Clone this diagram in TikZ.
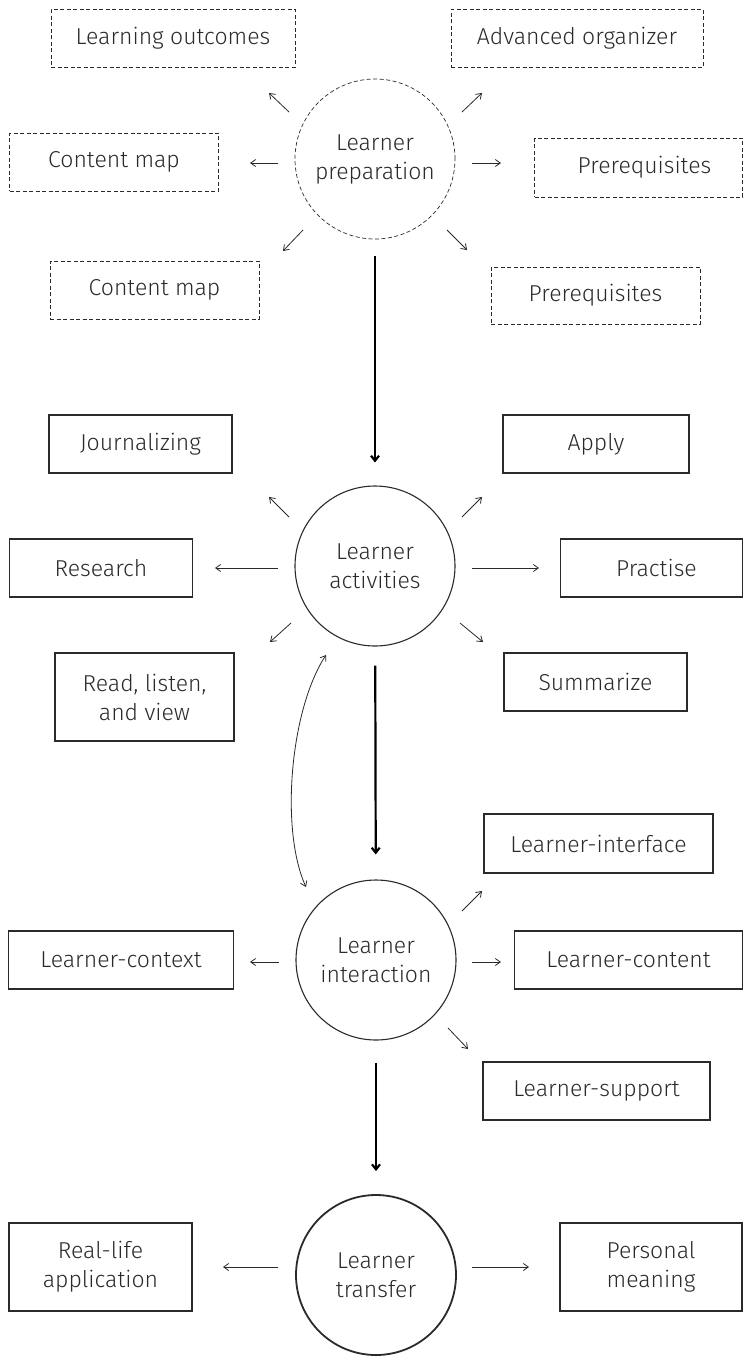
\documentclass[tikz,border=0pt]{standalone}
\usepackage{fontspec}
\setmainfont{Fira Sans}[UprightFont={* Light}]
\usetikzlibrary{arrows.meta}
\definecolor{ink}{HTML}{2A2A2A}
\tikzset{
  lbl/.style={text=ink, font=\fontsize{23}{29}\selectfont, align=center, inner sep=0pt},
  box/.style={lbl, draw=ink, line width=1.1pt, rectangle},
  dbox/.style={lbl, draw=ink, line width=0.7pt, dash pattern=on 4pt off 2.5pt, rectangle},
  tbox/.style={lbl, draw=ink, line width=1.8pt, rectangle},
  circ/.style={lbl, draw=ink, line width=1.1pt, circle, minimum size=160pt},
  dcirc/.style={lbl, draw=ink, line width=0.7pt, dash pattern=on 4pt off 2.5pt, circle, minimum size=160pt},
  tcirc/.style={lbl, draw=ink, line width=1.8pt, circle, minimum size=160pt},
  stub/.style={draw=ink, line width=0.8pt, -{Straight Barb[length=5pt,width=7pt]}},
  big/.style={draw=black, line width=2.2pt, -{Straight Barb[length=5pt,width=8pt]}},
}
\begin{document}
\begin{tikzpicture}[x=1pt,y=-1pt]
\useasboundingbox (0,0) rectangle (744,1361);
% ---------- Learner preparation ----------
\node[dcirc] (prep) at (375,159) {Learner\\preparation};
\node[dbox, minimum width=244pt, minimum height=58pt] (lo) at (173,38) {Learning outcomes};
\node[dbox, minimum width=252pt, minimum height=58pt] (ao) at (577,38) {Advanced organizer};
\node[dbox, minimum width=209pt, minimum height=58pt] (cm1) at (114,162) {Content map};
\node[dbox, minimum width=208pt, minimum height=59pt] (pr1) at (638.5,167.5) {\hspace*{12pt}Prerequisites};
\node[dbox, minimum width=209pt, minimum height=58pt] (cm2) at (154.5,290) {Content map};
\node[dbox, minimum width=209pt, minimum height=57pt] (pr2) at (595.5,295.5) {Prerequisites};
\coordinate (p1a) at (289,112); \coordinate (p1b) at (269,93);
\coordinate (p2a) at (462,112); \coordinate (p2b) at (482,93);
\coordinate (p3a) at (278,163); \coordinate (p3b) at (250,163);
\coordinate (p4a) at (472,163); \coordinate (p4b) at (501,163);
\coordinate (p5a) at (303,230); \coordinate (p5b) at (283,251);
\coordinate (p6a) at (447,230); \coordinate (p6b) at (467,250);
\foreach \i in {1,...,6} {\draw[stub] (p\i a) -- (p\i b);}
% ---------- Learner activities ----------
\node[circ] (act) at (375,566) {Learner\\activities};
\node[box, minimum width=183pt, minimum height=58pt] (jo) at (140.5,444) {Journalizing};
\node[box, minimum width=186pt, minimum height=58pt] (ap) at (596,444) {Apply};
\node[box, minimum width=183pt, minimum height=58pt] (re) at (101,568) {Research};
\node[box, minimum width=182pt, minimum height=58pt] (pa) at (651.5,568) {\hspace*{10pt}Practise};
\node[box, minimum width=179pt, minimum height=88pt] (rlv) at (144.5,697) {Read, listen,\\and view};
\node[box, minimum width=183pt, minimum height=58pt] (su) at (595.5,682) {Summarize};
\coordinate (a1a) at (289,517); \coordinate (a1b) at (269,497);
\coordinate (a2a) at (462,517); \coordinate (a2b) at (482,497);
\coordinate (a3a) at (278,568); \coordinate (a3b) at (215,568);
\coordinate (a4a) at (472,568); \coordinate (a4b) at (539,568);
\coordinate (a5a) at (291,623); \coordinate (a5b) at (270,642);
\coordinate (a6a) at (460,623); \coordinate (a6b) at (483,642);
\foreach \i in {1,...,6} {\draw[stub] (a\i a) -- (a\i b);}
% ---------- Learner interaction ----------
\node[circ] (int) at (376,960) {Learner\\interaction};
\node[box, minimum width=229pt, minimum height=59pt] (li) at (598.5,843.5) {Learner-interface};
\node[box, minimum width=225pt, minimum height=58pt] (lcx) at (121,960) {Learner-context};
\node[box, minimum width=228pt, minimum height=58pt] (lct) at (628.5,960) {Learner-content};
\node[box, minimum width=227pt, minimum height=58pt] (ls) at (596.5,1091) {Learner-support};
\coordinate (i1a) at (462,911); \coordinate (i1b) at (482,891);
\coordinate (i2a) at (279,962); \coordinate (i2b) at (250,962);
\coordinate (i3a) at (472,962); \coordinate (i3b) at (501,962);
\coordinate (i4a) at (448,1028); \coordinate (i4b) at (468,1049);
\foreach \i in {1,...,4} {\draw[stub] (i\i a) -- (i\i b);}
% ---------- Learner transfer ----------
\node[tcirc] (tr) at (376,1275) {Learner\\transfer};
\node[tbox, minimum width=183pt, minimum height=88pt] (rla) at (100.5,1267) {Real-life\\application};
\node[tbox, minimum width=182pt, minimum height=88pt] (pm) at (651,1267) {Personal\\meaning};
\coordinate (t1a) at (278,1267); \coordinate (t1b) at (223,1267);
\coordinate (t2a) at (472,1267); \coordinate (t2b) at (529,1267);
\foreach \i in {1,2} {\draw[stub] (t\i a) -- (t\i b);}
% ---------- main flow ----------
\draw[big, shorten <=17pt, shorten >=23pt] (prep) -- (act);
\draw[big, shorten <=19pt, shorten >=25pt] (act) -- (int);
\draw[big, shorten <=22pt, shorten >=23pt] (int) -- (tr);
% ---------- feedback curve ----------
\coordinate (fa) at (326,655);
\coordinate (fb) at (306,887);
\draw[draw=ink, line width=0.8pt, {Straight Barb[length=5pt,width=7pt]}-{Straight Barb[length=5pt,width=7pt]}]
  (fa) .. controls (290,710) and (280,830) .. (fb);
\end{tikzpicture}
\end{document}
